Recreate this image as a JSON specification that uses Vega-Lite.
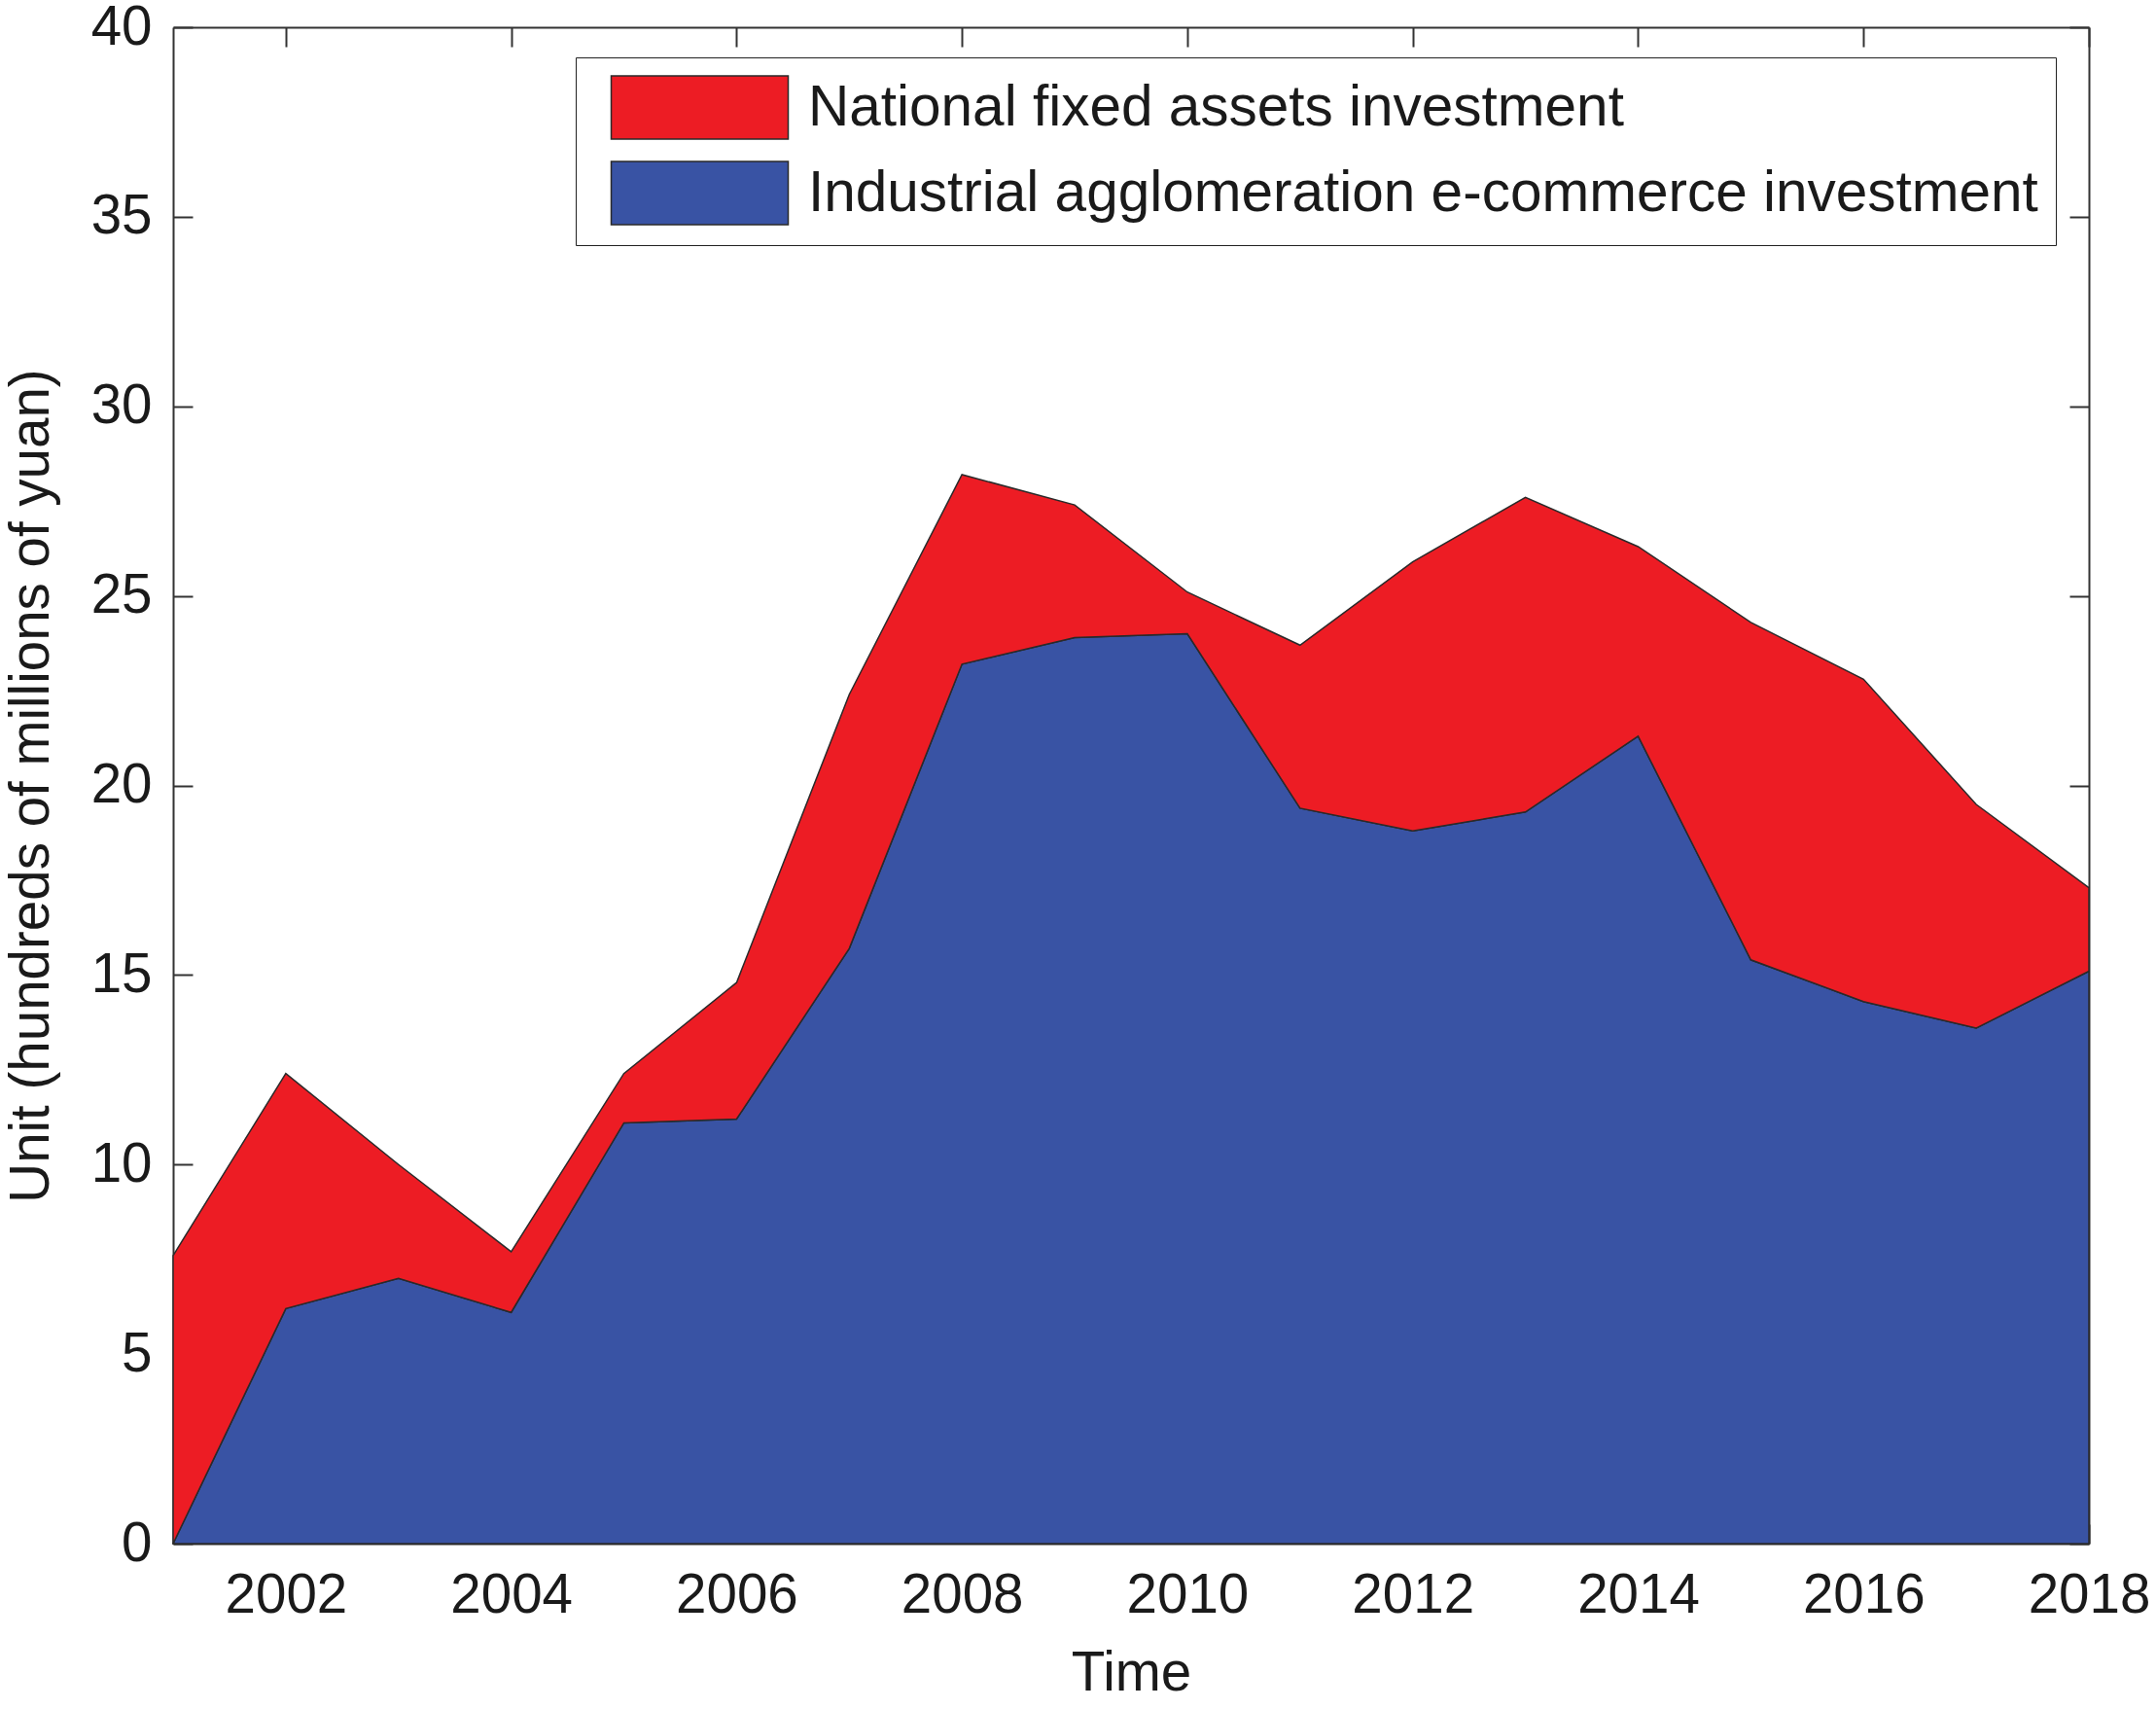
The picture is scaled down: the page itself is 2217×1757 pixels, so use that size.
{
  "$schema": "https://vega.github.io/schema/vega-lite/v6.json",
  "width": 1970,
  "height": 1559,
  "autosize": {"type": "none"},
  "padding": {"left": 178, "top": 28, "right": 69, "bottom": 170},
  "background": "white",
  "config": {
    "font": "Liberation Sans",
    "view": {"stroke": null},
    "axis": {
      "labelFont": "Liberation Sans",
      "titleFont": "Liberation Sans",
      "labelFontSize": 56.5,
      "titleFontSize": 56.5,
      "titleFontWeight": "normal",
      "labelColor": "#1a1a1a",
      "titleColor": "#1a1a1a",
      "domainColor": "#333333",
      "domainWidth": 2,
      "tickColor": "#333333",
      "tickWidth": 2,
      "tickSize": -20,
      "grid": false
    },
    "legend": {
      "labelFont": "Liberation Sans"
    }
  },
  "data": {
    "values": [
      {"year": 2001, "series": "Industrial agglomeration e-commerce investment", "value": 0.0},
      {"year": 2002, "series": "Industrial agglomeration e-commerce investment", "value": 6.2},
      {"year": 2003, "series": "Industrial agglomeration e-commerce investment", "value": 7.0},
      {"year": 2004, "series": "Industrial agglomeration e-commerce investment", "value": 6.1},
      {"year": 2005, "series": "Industrial agglomeration e-commerce investment", "value": 11.1},
      {"year": 2006, "series": "Industrial agglomeration e-commerce investment", "value": 11.2},
      {"year": 2007, "series": "Industrial agglomeration e-commerce investment", "value": 15.7},
      {"year": 2008, "series": "Industrial agglomeration e-commerce investment", "value": 23.2},
      {"year": 2009, "series": "Industrial agglomeration e-commerce investment", "value": 23.9},
      {"year": 2010, "series": "Industrial agglomeration e-commerce investment", "value": 24.0},
      {"year": 2011, "series": "Industrial agglomeration e-commerce investment", "value": 19.4},
      {"year": 2012, "series": "Industrial agglomeration e-commerce investment", "value": 18.8},
      {"year": 2013, "series": "Industrial agglomeration e-commerce investment", "value": 19.3},
      {"year": 2014, "series": "Industrial agglomeration e-commerce investment", "value": 21.3},
      {"year": 2015, "series": "Industrial agglomeration e-commerce investment", "value": 15.4},
      {"year": 2016, "series": "Industrial agglomeration e-commerce investment", "value": 14.3},
      {"year": 2017, "series": "Industrial agglomeration e-commerce investment", "value": 13.6},
      {"year": 2018, "series": "Industrial agglomeration e-commerce investment", "value": 15.1},
      {"year": 2001, "series": "National fixed assets investment", "value": 7.6},
      {"year": 2002, "series": "National fixed assets investment", "value": 6.2},
      {"year": 2003, "series": "National fixed assets investment", "value": 3.0},
      {"year": 2004, "series": "National fixed assets investment", "value": 1.6},
      {"year": 2005, "series": "National fixed assets investment", "value": 1.3},
      {"year": 2006, "series": "National fixed assets investment", "value": 3.6},
      {"year": 2007, "series": "National fixed assets investment", "value": 6.7},
      {"year": 2008, "series": "National fixed assets investment", "value": 5.0},
      {"year": 2009, "series": "National fixed assets investment", "value": 3.5},
      {"year": 2010, "series": "National fixed assets investment", "value": 1.1},
      {"year": 2011, "series": "National fixed assets investment", "value": 4.3},
      {"year": 2012, "series": "National fixed assets investment", "value": 7.1},
      {"year": 2013, "series": "National fixed assets investment", "value": 8.3},
      {"year": 2014, "series": "National fixed assets investment", "value": 5.0},
      {"year": 2015, "series": "National fixed assets investment", "value": 8.9},
      {"year": 2016, "series": "National fixed assets investment", "value": 8.5},
      {"year": 2017, "series": "National fixed assets investment", "value": 5.9},
      {"year": 2018, "series": "National fixed assets investment", "value": 2.2}
    ]
  },
  "resolve": {"axis": {"x": "independent", "y": "independent"}},
  "layer": [
    {
      "mark": {"type": "area", "stroke": "#2a2a2a", "strokeWidth": 1.5, "opacity": 1},
      "encoding": {
        "x": {
          "field": "year",
          "type": "quantitative",
          "scale": {"domain": [2001, 2018], "nice": false, "zero": false},
          "axis": {
            "orient": "bottom",
            "title": "Time",
            "values": [2002, 2004, 2006, 2008, 2010, 2012, 2014, 2016, 2018],
            "format": "d",
            "labelPadding": 45,
            "titlePadding": 24,
            "labelFlush": false,
            "labelOverlap": false
          }
        },
        "y": {
          "field": "value",
          "type": "quantitative",
          "stack": "zero",
          "scale": {"domain": [0, 40], "nice": false},
          "axis": {
            "orient": "left",
            "title": "Unit (hundreds of millions of yuan)",
            "values": [0, 5, 10, 15, 20, 25, 30, 35, 40],
            "labelPadding": 42,
            "titlePadding": 32,
            "labelFlush": false,
            "labelOverlap": false
          }
        },
        "order": {"field": "series", "sort": "ascending"},
        "color": {
          "field": "series",
          "type": "nominal",
          "scale": {
            "domain": ["National fixed assets investment", "Industrial agglomeration e-commerce investment"],
            "range": ["#ED1C24", "#3953A4"]
          },
          "legend": {
            "orient": "none",
            "legendX": 414,
            "legendY": 31,
            "title": null,
            "fillColor": "white",
            "strokeColor": "#222222",
            "padding": 18,
            "symbolOffset": 76,
            "symbolType": "M-2.8,-1H2.8V1H-2.8Z",
            "symbolSize": 4225,
            "symbolStrokeWidth": 1.5,
            "symbolStrokeColor": "#2a2a2a",
            "labelFontSize": 58.5,
            "labelColor": "#1a1a1a",
            "labelOffset": 78,
            "rowPadding": 17,
            "labelLimit": 2000
          }
        }
      }
    },
    {
      "mark": {"type": "point", "opacity": 0},
      "encoding": {
        "x": {
          "field": "year",
          "type": "quantitative",
          "axis": {
            "orient": "top",
            "title": null,
            "labels": false,
            "values": [2002, 2004, 2006, 2008, 2010, 2012, 2014, 2016, 2018]
          }
        },
        "y": {
          "field": "value",
          "type": "quantitative",
          "axis": {
            "orient": "right",
            "title": null,
            "labels": false,
            "values": [0, 5, 10, 15, 20, 25, 30, 35, 40]
          }
        }
      }
    }
  ]
}
